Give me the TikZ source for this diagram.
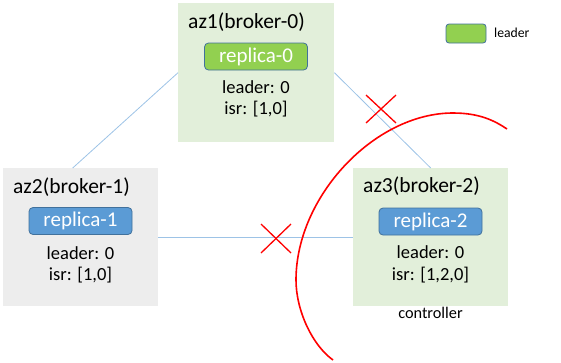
\documentclass[tikz,border=0pt]{standalone}
\usepackage{fontspec}
\setmainfont{Carlito}
\usetikzlibrary{calc}
\definecolor{greenbg}{RGB}{226,239,218}
\definecolor{graybg}{RGB}{237,237,237}
\definecolor{repgreen}{RGB}{146,208,80}
\definecolor{repblue}{RGB}{91,155,213}
\definecolor{repborder}{RGB}{65,113,156}
\definecolor{linkblue}{RGB}{157,195,230}
\definecolor{xred}{RGB}{255,0,0}
\tikzset{
  brokerbox/.style={draw=none, minimum width=155pt, minimum height=138pt, inner sep=0pt},
  replicabox/.style={draw=repborder, line width=0.8pt, rounded corners=4pt, minimum width=103pt, minimum height=27pt, inner sep=0pt, text=white, font=\fontsize{21}{21}\selectfont},
  titletxt/.style={anchor=base west, inner sep=0pt, font=\fontsize{21.5}{21.5}\selectfont},
  infotxt/.style={anchor=base, inner sep=0pt, font=\fontsize{18.5}{18.5}\selectfont},
  link/.style={draw=linkblue, line width=0.8pt},
  crossline/.style={draw=xred, line width=1.3pt},
}
\begin{document}
\begin{tikzpicture}[x=1pt,y=-1pt]
\useasboundingbox (0,0) rectangle (561,362);
% broker boxes
\node[brokerbox, fill=greenbg, anchor=north west, minimum height=139pt, minimum width=156pt] (az1) at (178,3) {};
\node[brokerbox, fill=graybg, anchor=north west] (az2) at (3,168) {};
\node[brokerbox, fill=greenbg, anchor=north west] (az3) at (353,168) {};
% links
\draw[link] (az1.west) -- ($(az2.north)+(-8,0)$);
\draw[link] (az1.east) -- (az3.north);
\draw[link] (az2.east) -- (az3.west);
% az1 contents
\node[titletxt] (t1) at (188,28) {az1(broker-0)};
\node[replicabox, fill=repgreen] (r0) at (256,56.5) {replica-0};
\node[infotxt] (l1) at (256,93) {leader: 0};
\node[infotxt] (i1) at (256,114) {isr: [1,0]};
% az2 contents
\node[titletxt] (t2) at (13,193) {az2(broker-1)};
\node[replicabox, fill=repblue] (r1) at (80.5,221) {replica-1};
\node[infotxt] (l2) at (80.5,259) {leader: 0};
\node[infotxt] (i2) at (80.5,280) {isr: [1,0]};
% az3 contents
\node[titletxt] (t3) at (363,192) {az3(broker-2)};
\node[replicabox, fill=repblue] (r2) at (430.5,221.5) {replica-2};
\node[infotxt] (l3) at (430.5,258) {leader: 0};
\node[infotxt] (i3) at (430.5,280) {isr: [1,2,0]};
\node[anchor=base, inner sep=0pt, font=\fontsize{16.3}{16.3}\selectfont] (ctl) at (430.5,318) {controller};
% legend
\node[draw=repborder, line width=0.8pt, fill=repgreen, rounded corners=3pt, minimum width=40pt, minimum height=19pt, inner sep=0pt] (leg) at (466,33.5) {};
\node[anchor=west, inner sep=0pt, font=\fontsize{13.7}{13.7}\selectfont] (legtxt) at (494,32.5) {leader};
% red crosses
\coordinate (xa) at (381,109);
\coordinate (xb) at (276,238.5);
\draw[crossline] ($(xa)+(-15,-14)$) -- ($(xa)+(15,14)$);
\draw[crossline] ($(xa)+(-15,14)$) -- ($(xa)+(15,-14)$);
\draw[crossline] ($(xb)+(-15,-14.5)$) -- ($(xb)+(15,14.5)$);
\draw[crossline] ($(xb)+(-15,14.5)$) -- ($(xb)+(15,-14.5)$);
% red arc
\draw[xred, line width=1.6pt]
  (507,129) .. controls (495,121) and (480,113) .. (453,113)
  .. controls (374.5,113) and (296,196.5) .. (296,280)
  .. controls (296,310) and (312,345) .. (333,360);
\end{tikzpicture}
\end{document}
